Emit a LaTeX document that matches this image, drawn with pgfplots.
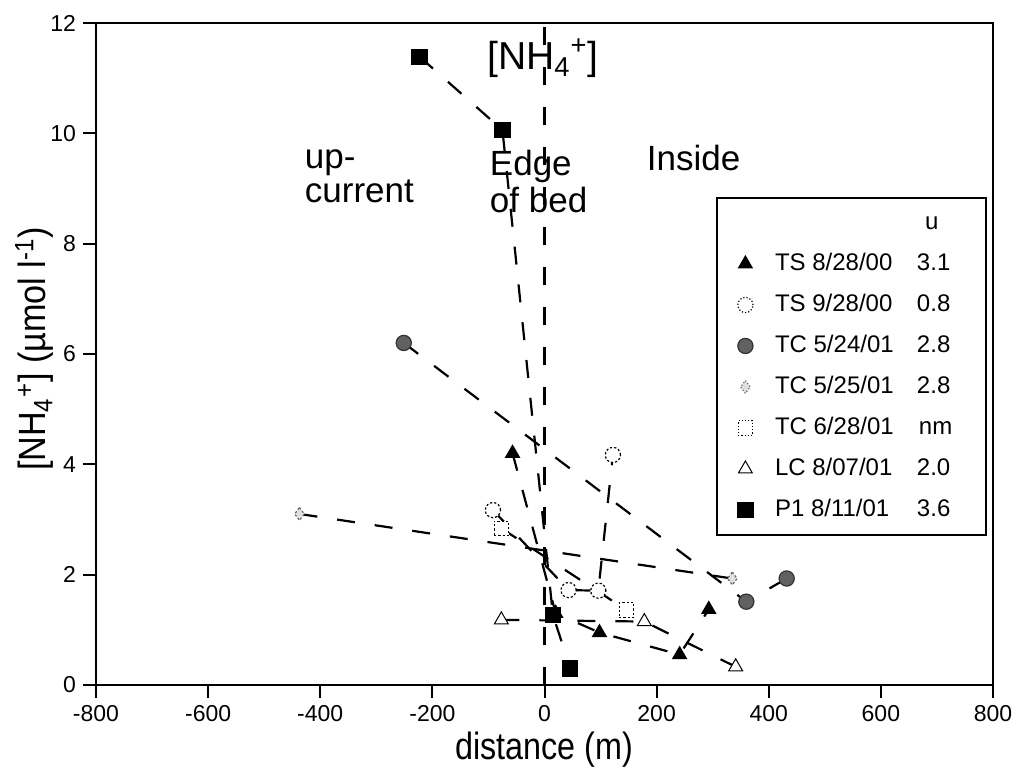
\documentclass[border=0pt]{standalone}
\usepackage{fontspec}
\setmainfont{Liberation Sans}
\usepackage{graphicx}
\usepackage{pgfplots}
\pgfplotsset{compat=1.18}

\begin{document}
\begin{tikzpicture}
\begin{axis}[
    scale only axis,
    width=448.5pt, height=331pt,
    xmin=-800, xmax=800, ymin=0, ymax=12,
    xtick={-800,-600,...,800},
    ytick={0,2,...,12},
    tick align=outside, tick pos=left,
    major tick length=6.5pt,
    axis line style={line width=1pt},
    every tick/.style={black, line width=1pt},
    tick label style={font=\fontsize{11.5}{13}\selectfont},
    /pgf/number format/assume math mode=true,
    xlabel={\scalebox{0.85}[1]{distance (m)}},
    ylabel={\scalebox{0.9}[1]{[NH\textsubscript{4}\textsuperscript{+}] (µmol l\textsuperscript{-1})}},
    xlabel style={font=\fontsize{19}{22}\selectfont, at={([yshift=-37.5pt]axis description cs:0.5,0)}, anchor=base},
    ylabel style={font=\fontsize{19}{22}\selectfont, at={([xshift=-25pt,yshift=2.5pt]axis description cs:0,0.5)}, anchor=base},
    every axis plot/.append style={black, line width=1.1pt, dash pattern=on 9pt off 10pt},
    legend image code/.code={\path[#1] plot coordinates {(0pt,0pt)};},
    legend style={at={(rel axis cs:0.9933,0.7372)}, anchor=north east,
        draw=black, line width=1pt, font=\fontsize{12}{14}\selectfont,
        inner xsep=10.5pt, inner ysep=4.75pt, row sep=5pt,
        nodes={text height=9pt, text depth=2.5pt, inner sep=2pt},
        /tikz/every odd column/.append style={column sep=9pt}},
    legend cell align=left,
]
\coordinate (bl) at (rel axis cs:0,0);
\coordinate (tr) at (rel axis cs:1,1);

\addlegendimage{empty legend}
\addlegendentry{\makebox[71pt][l]{}\makebox[22pt][l]{\hspace{4pt}u}}

% TS 8/28/00
\addplot[mark=triangle*, mark size=4pt, mark options={solid, fill=black, draw=black, line width=0.5pt}]
  coordinates {(-57,4.2) (20,1.3) (98,0.95) (241,0.55) (293,1.37)};
\addlegendentry{\makebox[71pt][l]{TS 8/28/00}\makebox[22pt][l]{3.1}}

% TS 9/28/00
\addplot[mark=*, mark size=3.8pt, mark options={densely dotted, fill=white, draw=black, line width=0.6pt}]
  coordinates {(-92,3.17) (43,1.72) (96,1.71) (122,4.17)};
\addlegendentry{\makebox[71pt][l]{TS 9/28/00}\makebox[22pt][l]{0.8}}

% TC 5/24/01
\addplot[mark=*, mark size=3.8pt, mark options={solid, fill=black!62, draw=black!80, line width=0.6pt}]
  coordinates {(-251,6.2) (360,1.51) (432,1.93)};
\addlegendentry{\makebox[71pt][l]{TC 5/24/01}\makebox[22pt][l]{2.8}}

% TC 5/25/01
\addplot[mark=diamond*, mark size=3.2pt, mark options={densely dotted, fill=black!12, draw=black!60, line width=0.6pt}]
  coordinates {(-437,3.1) (335,1.93)};
\addlegendentry{\makebox[71pt][l]{TC 5/25/01}\makebox[22pt][l]{2.8}}

% TC 6/28/01
\addplot[mark=square*, mark size=3.6pt, mark options={densely dotted, fill=white, draw=black, line width=0.6pt}]
  coordinates {(-77,2.84) (146,1.36)};
\addlegendentry{\makebox[71pt][l]{TC 6/28/01}\makebox[22pt][l]{\hspace{1pt}nm}}

% LC 8/07/01
\addplot[mark=triangle*, mark size=4pt, mark options={solid, fill=white, draw=black, line width=0.5pt}]
  coordinates {(-77,1.18) (178,1.15) (341,0.33)};
\addlegendentry{\makebox[71pt][l]{LC 8/07/01}\makebox[22pt][l]{2.0}}

% P1 8/11/01
\addplot[mark=square*, mark size=3.8pt, mark options={solid, fill=black, draw=black, line width=0.5pt}]
  coordinates {(-223,11.39) (-75,10.06) (15,1.27) (46,0.30)};
\addlegendentry{\makebox[71pt][l]{P1 8/11/01}\makebox[22pt][l]{3.6}}

% edge of bed
\addplot[forget plot, dash pattern=on 9pt off 11pt] coordinates {(0,0) (0,12)};

\node[anchor=base west, font=\fontsize{19.5}{22}\selectfont, inner sep=0pt] at (axis cs:-103,11.15) {[NH\textsubscript{4}\textsuperscript{+}]};
\node[anchor=base west, font=\fontsize{17.5}{20}\selectfont, inner sep=0pt] at (axis cs:-428,9.37) {up-};
\node[anchor=base west, font=\fontsize{17.5}{20}\selectfont, inner sep=0pt] at (axis cs:-428,8.75) {current};
\node[anchor=base west, font=\fontsize{17.5}{20}\selectfont, inner sep=0pt] at (axis cs:-98,9.24) {Edge};
\node[anchor=base west, font=\fontsize{17.5}{20}\selectfont, inner sep=0pt] at (axis cs:-98,8.57) {of bed};
\node[anchor=base west, font=\fontsize{17.5}{20}\selectfont, inner sep=0pt] at (axis cs:182,9.33) {Inside};
\end{axis}
\pgfresetboundingbox
\path ([shift={(-48pt,-45.5pt)}]bl) rectangle ([shift={(12pt,11.5pt)}]tr);
\end{tikzpicture}
\end{document}
